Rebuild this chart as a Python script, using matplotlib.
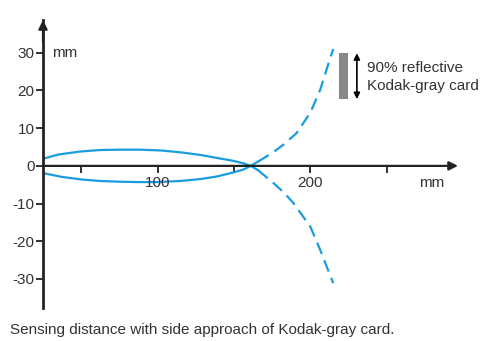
import matplotlib.pyplot as plt

# ---- data (mm) ----
upper_x = [25, 35, 49, 62, 75, 88, 102, 115, 128, 139, 150, 156, 161, 166]
upper_y = [1.9, 3.0, 3.8, 4.2, 4.3, 4.3, 4.1, 3.6, 2.9, 2.1, 1.3, 0.7, 0.0, -1.2]
lower_x = [25, 37, 50, 62, 75, 88, 99, 115, 128, 139, 149, 156, 161, 166]
lower_y = [-1.9, -2.9, -3.6, -4.0, -4.2, -4.3, -4.3, -4.0, -3.5, -2.8, -1.8, -1.0, 0.0, 1.2]

dash_up_x = [166, 175, 183, 191, 200, 206.5, 212, 215]
dash_up_y = [1.2, 3.4, 5.8, 8.7, 14.1, 20.2, 27.3, 31.0]
dash_dn_x = [166, 176, 183, 189, 200, 206.5, 211, 215]
dash_dn_y = [-1.2, -4.6, -7.2, -9.9, -16.1, -22.3, -27.0, -31.1]

x_ticks = [50, 100, 150, 200, 250]
x_ticklabels = ["", "100", "", "200", ""]
y_ticks = [-30, -20, -10, 0, 10, 20, 30]
y_ticklabels = ["-30", "-20", "-10", "0", "10", "20", "30"]

card_x = (218.5, 224.4)
card_y = (17.7, 29.9)

BLUE = "#1a9ddf"
INK = "#222222"
TXT = "#333333"

plt.rcParams["font.family"] = ["Liberation Sans", "DejaVu Sans"]

fig = plt.figure(figsize=(4.86, 3.41), dpi=100)
ax = fig.add_axes([43 / 486, 33 / 341, 415 / 486, 288 / 341])
x0, x1 = 25, 296.7
ax.set_xlim(x0, x1)
ax.set_ylim(-37.7, 38.7)

for s in ["top", "right", "bottom"]:
    ax.spines[s].set_visible(False)
ax.spines["left"].set_linewidth(2)
ax.spines["left"].set_color(INK)

# x axis with arrow
ax.annotate("", xy=(x1, 0), xytext=(x0, 0),
            arrowprops=dict(arrowstyle="-|>", lw=1.6, color=INK,
                            mutation_scale=13, shrinkA=0, shrinkB=0),
            annotation_clip=False)
# y axis arrow head
ax.annotate("", xy=(x0, 38.7), xytext=(x0, 33),
            arrowprops=dict(arrowstyle="-|>", lw=1.6, color=INK,
                            mutation_scale=13, shrinkA=0, shrinkB=0),
            annotation_clip=False)

ax.set_yticks(y_ticks)
ax.set_yticklabels(y_ticklabels)
ax.set_xticks([])
ax.tick_params(axis="y", length=5, width=1.3, color=INK, labelsize=11,
               labelcolor=TXT, pad=1)

# x ticks drawn under the axis
for xt, lab in zip(x_ticks, x_ticklabels):
    ax.plot([xt, xt], [0, -1.8], color=INK, lw=1.3, solid_capstyle="butt")
    if lab:
        ax.text(xt, -4.5, lab, ha="center", va="center", fontsize=11, color=TXT)
ax.text(279.5, -4.5, "mm", ha="center", va="center", fontsize=11, color=TXT)
ax.text(38.9, 30, "mm", ha="center", va="center", fontsize=11, color=TXT)

# curves
ax.plot(upper_x, upper_y, color=BLUE, lw=1.6)
ax.plot(lower_x, lower_y, color=BLUE, lw=1.6)
ax.plot(dash_up_x, dash_up_y, color=BLUE, lw=1.6, dashes=(5.5, 3))
ax.plot(dash_dn_x, dash_dn_y, color=BLUE, lw=1.6, dashes=(5.5, 3))

# gray card and double arrow
ax.add_patch(plt.Rectangle((card_x[0], card_y[0]), card_x[1] - card_x[0],
                           card_y[1] - card_y[0], color="#888888", lw=0))
ax.annotate("", xy=(230.5, card_y[1]), xytext=(230.5, card_y[0]),
            arrowprops=dict(arrowstyle="<|-|>", lw=1.2, color="black",
                            mutation_scale=9, shrinkA=0, shrinkB=0))
ax.text(237, 26, "90% reflective", ha="left", va="center", fontsize=11, color=TXT)
ax.text(237, 21.2, "Kodak-gray card", ha="left", va="center", fontsize=11, color=TXT)

fig.text(10 / 486, 11 / 341, "Sensing distance with side approach of Kodak-gray card.",
         ha="left", va="center", fontsize=11, color=TXT)

fig.savefig("out.png", dpi=100)
